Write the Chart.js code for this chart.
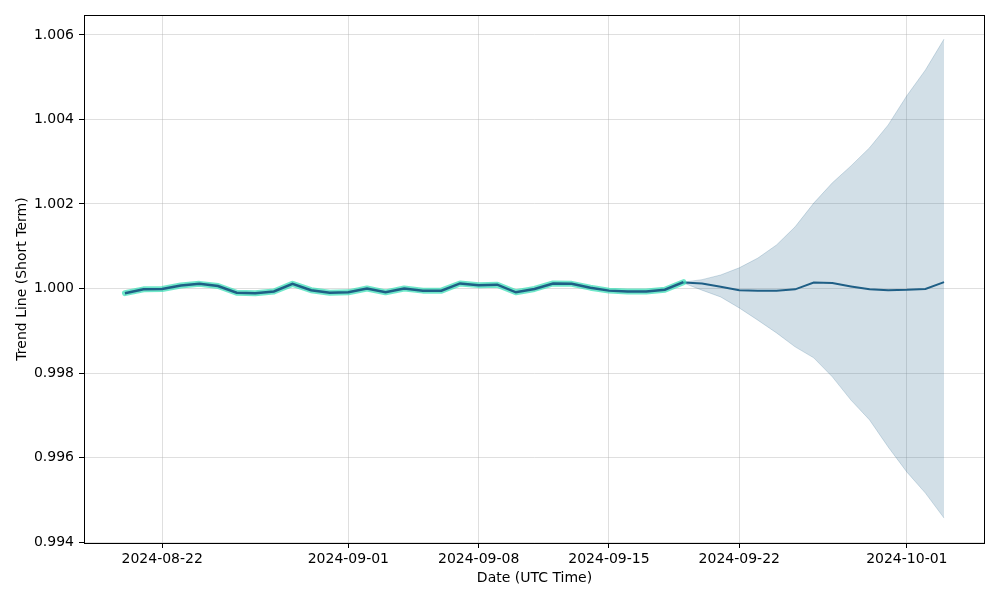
<!DOCTYPE html>
<html>
<head>
<meta charset="utf-8">
<script src="https://cdn.jsdelivr.net/npm/chart.js@4/dist/chart.umd.min.js"></script>
<style>
  html, body { margin: 0; padding: 0; background: #fff; }
  #wrap { width: 1000px; height: 600px; }
</style>
</head>
<body>
<div id="wrap"><canvas id="trendChart" width="1000" height="600"></canvas></div>
<script>
// history (daily)
const histDates = ["2024-08-20","2024-08-21","2024-08-22","2024-08-23","2024-08-24","2024-08-25","2024-08-26","2024-08-27","2024-08-28","2024-08-29","2024-08-30","2024-08-31","2024-09-01","2024-09-02","2024-09-03","2024-09-04","2024-09-05","2024-09-06","2024-09-07","2024-09-08","2024-09-09","2024-09-10","2024-09-11","2024-09-12","2024-09-13","2024-09-14","2024-09-15","2024-09-16","2024-09-17","2024-09-18","2024-09-19"];
const histValues = [0.99989,0.99998,0.99999,1.00007,1.00011,1.00006,0.99990,0.99989,0.99993,1.00011,0.99996,0.99990,0.99991,1.00000,0.99991,1.00000,0.99995,0.99995,1.00012,1.00008,1.00009,0.99991,0.99999,1.00012,1.00011,1.00002,0.99995,0.99993,0.99993,0.99997,1.00015];

// forecast + band
const fcDates = ["2024-09-19","2024-09-20","2024-09-21","2024-09-22","2024-09-23","2024-09-24","2024-09-25","2024-09-26","2024-09-27","2024-09-28","2024-09-29","2024-09-30","2024-10-01","2024-10-02","2024-10-03"];
const fcValues = [1.00014,1.00012,1.00004,0.99996,0.99995,0.99995,0.99998,1.00014,1.00013,1.00005,0.99998,0.99996,0.99997,0.99999,1.00015];
const fcUpper = [1.00015,1.00021,1.00032,1.00049,1.00072,1.00103,1.00146,1.00202,1.00250,1.00290,1.00333,1.00387,1.00456,1.00517,1.00590];
const fcLower = [1.00013,0.99996,0.99980,0.99954,0.99925,0.99895,0.99862,0.99836,0.99791,0.99736,0.99689,0.99625,0.99566,0.99516,0.99457];

const xTickDates = ["2024-08-22","2024-09-01","2024-09-08","2024-09-15","2024-09-22","2024-10-01"];
const yTicks = [0.994,0.996,0.998,1.000,1.002,1.004,1.006];

const DAY = 86400000;
const toMs = s => Date.parse(s + "T00:00:00Z");
const pts = (dates, vals) => dates.map((d, i) => ({ x: toMs(d), y: vals[i] }));

const darkBlue = "#1f5f86";
const bandColor = "rgba(31,95,134,0.2)";
const font = { family: "DejaVu Sans", size: 14 };

const framePlugin = {
  id: "frame",
  afterDraw(chart) {
    const { ctx, chartArea: a } = chart;
    ctx.save();
    ctx.strokeStyle = "#000";
    ctx.lineWidth = 1;
    ctx.strokeRect(Math.round(a.left) + 0.5, Math.round(a.top) + 0.5, Math.round(a.right - a.left) - 1, Math.round(a.bottom - a.top));
    ctx.restore();
  }
};

new Chart(document.getElementById("trendChart"), {
  type: "line",
  data: {
    datasets: [
      { data: pts(fcDates, fcUpper), borderColor: bandColor, borderWidth: 1, backgroundColor: bandColor, fill: "+1", pointRadius: 0, order: 5 },
      { data: pts(fcDates, fcLower), borderColor: bandColor, borderWidth: 1, fill: false, pointRadius: 0, order: 5 },
      { data: pts(fcDates, fcValues), borderColor: darkBlue, borderWidth: 2, fill: false, pointRadius: 0, order: 4 },
      { data: pts(histDates, histValues), borderColor: "rgba(64,224,184,0.75)", borderWidth: 6, fill: false, pointRadius: 0, borderJoinStyle: "round", borderCapStyle: "round", order: 3 },
      { data: pts(histDates, histValues), borderColor: darkBlue, borderWidth: 2.5, fill: false, pointRadius: 0, order: 2 }
    ]
  },
  options: {
    responsive: false,
    animation: false,
    layout: { padding: { top: 15, right: 15, left: 0, bottom: 0 } },
    plugins: { legend: { display: false }, tooltip: { enabled: false } },
    elements: { line: { tension: 0 } },
    scales: {
      x: {
        type: "linear",
        min: toMs("2024-08-20") - 2.2 * DAY,
        max: toMs("2024-10-03") + 2.2 * DAY,
        afterBuildTicks: s => { s.ticks = xTickDates.map(d => ({ value: toMs(d) })); },
        afterFit: s => { s.height = 57; },
        ticks: { autoSkip: false, maxRotation: 0, color: "#000", font, padding: 3,
          callback: v => new Date(v).toISOString().slice(0, 10) },
        grid: { color: "rgba(176,176,176,0.4)", tickColor: "#000", tickLength: 5 },
        border: { display: false },
        title: { display: true, text: "Date (UTC Time)", color: "#000", font, padding: { top: 0, bottom: 13.6 } }
      },
      y: {
        min: 0.99398,
        max: 1.00647,
        afterBuildTicks: s => { s.ticks = yTicks.map(v => ({ value: v })); },
        afterFit: s => { s.width = 84; },
        ticks: { color: "#000", font, padding: 5, callback: v => v.toFixed(3) },
        grid: { color: "rgba(176,176,176,0.4)", tickColor: "#000", tickLength: 5 },
        border: { display: false },
        title: { display: true, text: "Trend Line (Short Term)", color: "#000", font, padding: { top: 13.6, bottom: 0 } }
      }
    }
  },
  plugins: [framePlugin]
});
</script>
</body>
</html>
